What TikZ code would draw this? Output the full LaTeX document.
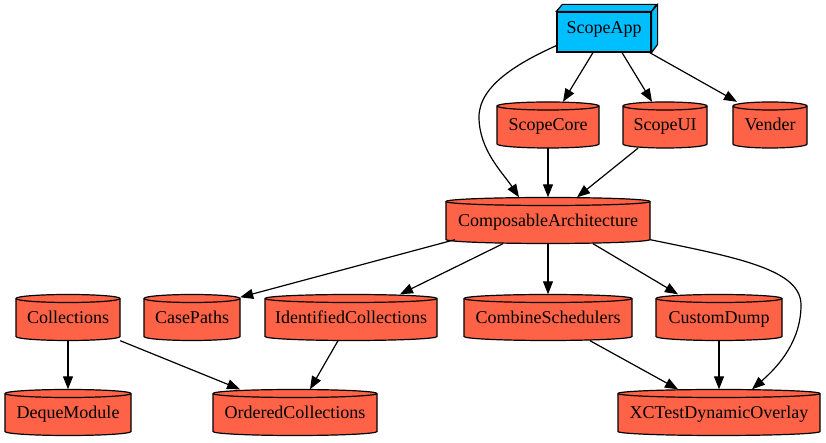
\documentclass[tikz,border=0pt]{standalone}
\usepackage{fontspec}
\setmainfont{Liberation Serif}
\newfontfamily\gvfont{Liberation Serif}
\usetikzlibrary{arrows.meta}
\definecolor{tomato}{HTML}{FF6347}
\definecolor{skyb}{HTML}{00BFFF}
\tikzset{
  cyltext/.style={rectangle, inner sep=0pt, minimum height=46pt, text height=12pt, text depth=0pt,
    font=\gvfont\fontsize{18pt}{20pt}\selectfont},
  appbox/.style={rectangle, inner sep=0pt, minimum width=94pt, minimum height=40pt, fill=skyb, draw=black,
    line width=1.2pt, text height=12pt, text depth=8pt, font=\gvfont\fontsize{18pt}{20pt}\selectfont},
  edge/.style={-{Triangle[length=13pt,width=10pt]}, line width=1.2pt},
  cylline/.style={line width=1.2pt, draw=black}
}
\newcommand\cylnode[5]{%
  \pgfmathsetmacro\cylx{#2}\pgfmathsetmacro\cyly{443-#3}\pgfmathsetmacro\cylhw{#4}%
  \filldraw[fill=tomato, cylline] (\cylx-\cylhw,\cyly+19) -- (\cylx-\cylhw,\cyly-19)
    arc[start angle=180,end angle=360,x radius=\cylhw,y radius=4] -- (\cylx+\cylhw,\cyly+19)
    arc[start angle=0,end angle=180,x radius=\cylhw,y radius=4] -- cycle;
  \draw[cylline] (\cylx-\cylhw,\cyly+19) arc[start angle=180,end angle=360,x radius=\cylhw,y radius=4];
  \node[cyltext, minimum width=2*\cylhw] (#1) at (\cylx,\cyly) {#5};
}
\begin{document}
\begin{tikzpicture}[x=1pt,y=1pt]
\useasboundingbox (0,0) rectangle (826,443);
% ScopeApp 3D box
\node[appbox] (app) at (604,411) {ScopeApp};
\filldraw[fill=skyb, line width=1.2pt, line join=miter] (app.north west) -- ++(6,7) -- ++(94,0) -- (app.north east) -- cycle;
\filldraw[fill=skyb, line width=1.2pt, line join=miter] (app.north east) -- ++(6,7) -- ++(0,-40) -- (app.south east) -- cycle;
% cylinders
\cylnode{core}{548}{125}{51}{ScopeCore}
\cylnode{ui}{665}{125}{42}{ScopeUI}
\cylnode{vender}{770}{125}{37}{Vender}
\cylnode{ca}{548}{220.5}{102}{ComposableArchitecture}
\cylnode{col}{68}{317.5}{52}{Collections}
\cylnode{cp}{192}{317.5}{48}{CasePaths}
\cylnode{idc}{351}{317.5}{86}{IdentifiedCollections}
\cylnode{cs}{548}{317.5}{84}{CombineSchedulers}
\cylnode{cd}{719}{317.5}{63}{CustomDump}
\cylnode{dq}{68}{412.5}{63}{DequeModule}
\cylnode{oc}{295}{412.5}{82}{OrderedCollections}
\cylnode{xct}{719}{412.5}{101}{XCTestDynamicOverlay}
% edges
\draw[edge] ([yshift=7pt]app.south west) .. controls (520,381) and (479,358) .. (479,326)
  .. controls (479,293) and (503,270) .. ([xshift=-29pt]ca.north);
\draw[edge] ([xshift=-11pt]app.south) -- ([xshift=15pt]core.north);
\draw[edge] ([xshift=18pt]app.south) -- ([xshift=-13pt]ui.north);
\draw[edge] ([xshift=-2pt]app.south east) -- ([xshift=-33pt]vender.north);
\draw[edge] (core.south) -- (ca.north);
\draw[edge] ([xshift=-27pt]ui.south) -- ([xshift=29pt]ca.north);
\draw[edge] ([xshift=9pt,yshift=4pt]ca.south west) -- ([yshift=-3pt]cp.north east);
\draw[edge] ([xshift=-45pt]ca.south) -- ([xshift=49pt]idc.north);
\draw[edge] (ca.south) -- (cs.north);
\draw[edge] ([xshift=45pt]ca.south) -- ([xshift=-41pt]cd.north);
\draw[edge] ([yshift=4pt]ca.south east) .. controls (740,185) and (801,173) .. (801,138)
  .. controls (801,103) and (780,78) .. ([xshift=33pt]xct.north);
\draw[edge] (col.south) -- (dq.north);
\draw[edge] (col.south east) -- ([xshift=-55pt]oc.north);
\draw[edge] ([xshift=-13pt]idc.south) -- ([xshift=15pt]oc.north);
\draw[edge] ([xshift=42pt]cs.south) -- ([xshift=-41pt]xct.north);
\draw[edge] (cd.south) -- (xct.north);
\end{tikzpicture}
\end{document}
